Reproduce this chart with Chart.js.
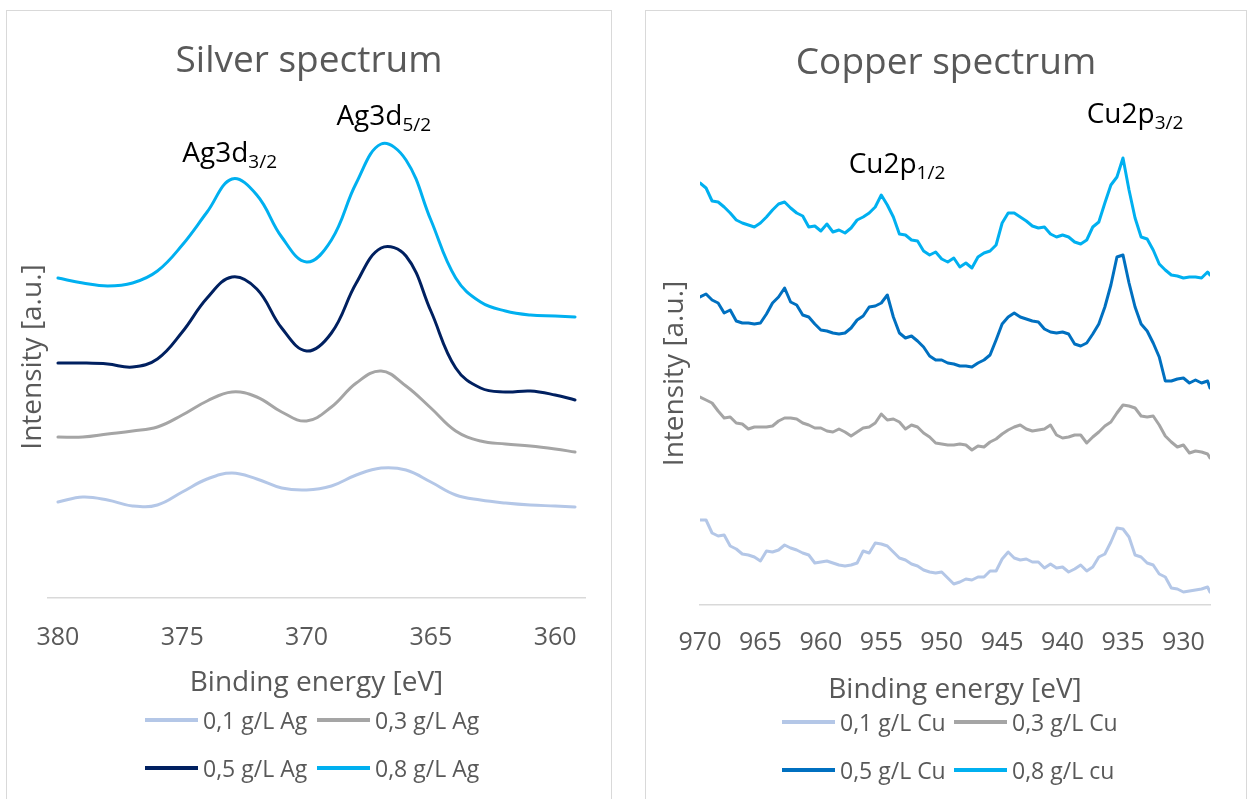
<!DOCTYPE html>
<html lang="en">
<head>
<meta charset="UTF-8">
<title>Silver and copper XPS spectra</title>
<script src="https://cdn.jsdelivr.net/npm/chart.js"></script>
<style>
  body { margin: 0; background: #fff; font-family: "Open Sans", sans-serif; }
  .panel { position: absolute; top: 10px; height: 789px; }
  .frame { position: absolute; left: 0; top: 0; right: 0; bottom: -12px; border: 1.5px solid #d9d9d9; box-sizing: border-box; }
  .panel canvas { position: absolute; left: 0; top: 0; }
  .legend { position: absolute; display: flex; flex-wrap: wrap; width: 344px; }
  .legend .item { width: 172px; height: 48px; display: flex; align-items: center; font-size: 23px; color: #595959; white-space: nowrap; }
  .legend .swatch { width: 53px; height: 4px; margin-right: 5px; flex: none; }
</style>
</head>
<body>
<div class="panel" id="agPanel" style="left:6px; width:606px;">
  <div class="frame"></div>
  <canvas id="agChart" width="606" height="789"></canvas>
  <div class="legend" id="agLegend" style="left:139px; top:686px;"></div>
</div>
<div class="panel" id="cuPanel" style="left:645px; width:602px;">
  <div class="frame"></div>
  <canvas id="cuChart" width="602" height="789"></canvas>
  <div class="legend" id="cuLegend" style="left:137px; top:688px;"></div>
</div>
<script>
// ---- silver spectrum ----
const agEnergy = [380, 379, 378, 377, 376, 375, 374, 373, 372, 371, 370, 369, 368, 367, 366, 365, 364, 363, 362, 361, 360, 359.2];
const agTicks = [380, 375, 370, 365, 360];
const agLabels = ['0,1 g/L Ag', '0,3 g/L Ag', '0,5 g/L Ag', '0,8 g/L Ag'];
const ag01 = [96, 101, 98, 92, 93, 106, 119, 125, 119, 110, 108, 112, 123, 130, 128, 116, 103, 98, 95, 93, 92, 91];
const ag03 = [161, 161, 164, 167, 171, 183, 197, 206, 201, 186, 177, 191, 215, 227, 212, 190, 167, 157, 154, 152, 149, 146];
const ag05 = [235, 235, 234, 231, 239, 266, 300, 321, 309, 270, 247, 265, 315, 350, 342, 287, 230, 210, 206, 207, 203, 198];
const ag08 = [320, 315, 312, 315, 327, 353, 386, 419, 403, 361, 336, 358, 415, 454, 438, 378, 320, 296, 287, 283, 282, 281];

// ---- copper spectrum ----
const cuEnergy = [970, 969.5, 969, 968.5, 968, 967.5, 967, 966.5, 966, 965.5,
  965, 964.5, 964, 963.5, 963, 962.5, 962, 961.5, 961, 960.5,
  960, 959.5, 959, 958.5, 958, 957.5, 957, 956.5, 956, 955.5,
  955, 954.5, 954, 953.5, 953, 952.5, 952, 951.5, 951, 950.5,
  950, 949.5, 949, 948.5, 948, 947.5, 947, 946.5, 946, 945.5,
  945, 944.5, 944, 943.5, 943, 942.5, 942, 941.5, 941, 940.5,
  940, 939.5, 939, 938.5, 938, 937.5, 937, 936.5, 936, 935.5,
  935, 934.5, 934, 933.5, 933, 932.5, 932, 931.5, 931, 930.5,
  930, 929.5, 929, 928.5, 928, 927.8];
const cuTicks = [970, 965, 960, 955, 950, 945, 940, 935, 930];
const cuLabels = ['0,1 g/L Cu', '0,3 g/L Cu', '0,5 g/L Cu', '0,8 g/L cu'];
const cu01 = [85, 85, 72, 69, 70, 59, 56, 51, 50, 48,
  44, 54, 53, 55, 60, 57, 55, 52, 50, 42,
  43, 44, 42, 40, 39, 40, 42, 54, 52, 62,
  61, 59, 53, 47, 45, 41, 39, 35, 33, 32,
  33, 27, 21, 23, 26, 25, 28, 28, 34, 34,
  46, 53, 47, 45, 46, 43, 43, 37, 41, 37,
  38, 33, 36, 40, 34, 38, 48, 51, 63, 77,
  76, 68, 50, 48, 42, 40, 31, 28, 17, 16,
  13, 14, 15, 16, 18, 13];
const cu03 = [208, 205, 202, 194, 187, 188, 182, 181, 176, 178,
  178, 178, 179, 184, 187, 187, 186, 182, 180, 177,
  177, 174, 173, 176, 173, 169, 173, 177, 178, 182,
  191, 185, 186, 183, 176, 180, 178, 172, 168, 162,
  161, 160, 160, 161, 160, 155, 159, 158, 163, 166,
  171, 175, 178, 180, 176, 174, 175, 176, 180, 170,
  167, 168, 170, 170, 162, 168, 173, 179, 183, 192,
  200, 199, 197, 189, 188, 189, 180, 169, 163, 158,
  160, 152, 154, 153, 151, 147];
const cu05 = [308, 311, 305, 302, 292, 295, 284, 282, 282, 281,
  282, 291, 302, 308, 317, 303, 300, 290, 288, 281,
  275, 274, 272, 271, 272, 277, 285, 289, 298, 299,
  302, 310, 288, 272, 267, 269, 264, 258, 249, 245,
  245, 242, 241, 239, 239, 238, 242, 245, 250, 265,
  281, 288, 292, 288, 286, 284, 283, 276, 273, 272,
  273, 271, 261, 259, 262, 271, 281, 298, 320, 348,
  350, 322, 298, 281, 274, 262, 248, 224, 224, 226,
  227, 222, 225, 222, 224, 217];
const cu08 = [422, 417, 404, 403, 398, 392, 385, 382, 380, 378,
  382, 388, 395, 401, 403, 397, 392, 389, 378, 379,
  374, 381, 373, 375, 372, 377, 385, 388, 392, 398,
  410, 400, 388, 371, 370, 365, 364, 354, 350, 353,
  346, 343, 347, 338, 342, 337, 348, 352, 354, 360,
  382, 392, 392, 388, 384, 379, 377, 378, 371, 368,
  370, 368, 363, 361, 365, 378, 383, 402, 420, 428,
  447, 415, 387, 368, 366, 355, 341, 335, 330, 329,
  327, 328, 328, 327, 333, 330];

const textColor = '#595959';
const fontName = '"Open Sans", sans-serif';

// peak names with a subscript, drawn at (energy, intensity) of the text baseline
const peakLabels = {
  id: 'peakLabels',
  afterDatasetsDraw(chart, args, opts) {
    const ctx = chart.ctx;
    const xs = chart.scales.x, ys = chart.scales.y;
    ctx.save();
    ctx.fillStyle = '#000';
    ctx.textAlign = 'left';
    ctx.textBaseline = 'alphabetic';
    opts.items.forEach(it => {
      const px = xs.getPixelForValue(it.x);
      const py = ys.getPixelForValue(it.y);
      ctx.font = '28px ' + fontName;
      ctx.fillText(it.main, px, py);
      const w = ctx.measureText(it.main).width;
      ctx.font = '19px ' + fontName;
      ctx.fillText(it.sub, px + w, py + 6);
    });
    ctx.restore();
  }
};

function series(energy, values) {
  return energy.map((e, i) => ({ x: e, y: values[i] }));
}

function makeChart(id, c) {
  return new Chart(document.getElementById(id), {
    type: 'line',
    data: { datasets: c.datasets },
    plugins: [peakLabels],
    options: {
      responsive: false,
      animation: false,
      events: [],
      layout: { padding: { left: 0, right: 0, top: 0, bottom: c.padBottom } },
      elements: { point: { radius: 0 } },
      plugins: {
        legend: { display: false },
        tooltip: { enabled: false },
        title: {
          display: true,
          text: c.title,
          color: textColor,
          font: { family: fontName, size: 37, weight: 'normal' },
          padding: { top: c.titleTop, bottom: c.titleBottom }
        },
        peakLabels: { items: c.peaks }
      },
      scales: {
        x: {
          type: 'linear',
          reverse: true,
          min: c.xMin,
          max: c.xMax,
          grid: { display: false, drawTicks: false },
          border: { display: true, color: '#d9d9d9', width: 1.5 },
          ticks: {
            color: textColor,
            font: { family: fontName, size: 25 },
            padding: c.tickPad,
            autoSkip: false,
            maxRotation: 0
          },
          afterBuildTicks: s => { s.ticks = c.ticks.map(v => ({ value: v })); },
          afterFit: s => { s.height = 110; },
          title: {
            display: true,
            text: 'Binding energy [eV]',
            color: textColor,
            font: { family: fontName, size: 28 },
            padding: { top: 0, bottom: 8.2 }
          }
        },
        y: {
          type: 'linear',
          min: 0,
          max: c.yMax,
          grid: { display: false, drawTicks: false },
          border: { display: false },
          ticks: { display: false },
          afterFit: s => { s.width = c.yWidth; },
          title: {
            display: true,
            text: 'Intensity [a.u.]',
            color: textColor,
            font: { family: fontName, size: 28 },
            padding: { top: c.yTitlePad, bottom: 0 }
          }
        },
        yRight: {
          type: 'linear',
          position: 'right',
          grid: { display: false, drawTicks: false },
          border: { display: false },
          ticks: { display: false },
          afterFit: s => { s.width = c.rightGap; }
        }
      }
    }
  });
}

function buildLegend(id, datasets) {
  const el = document.getElementById(id);
  datasets.forEach(ds => {
    const item = document.createElement('div');
    item.className = 'item';
    const sw = document.createElement('span');
    sw.className = 'swatch';
    sw.style.background = ds.borderColor;
    const tx = document.createElement('span');
    tx.textContent = ds.label;
    item.appendChild(sw);
    item.appendChild(tx);
    el.appendChild(item);
  });
}

const agColors = ['#b4c7e7', '#a5a5a5', '#002060', '#00b0f0'];
const cuColors = ['#b4c7e7', '#a5a5a5', '#0070c0', '#00b0f0'];

const agDatasets = [ag01, ag03, ag05, ag08].map((v, i) => ({
  label: agLabels[i],
  data: series(agEnergy, v),
  borderColor: agColors[i],
  backgroundColor: agColors[i],
  borderWidth: 3,
  fill: false,
  tension: 0.4,
  borderCapStyle: 'round'
}));

const cuDatasets = [cu01, cu03, cu05, cu08].map((v, i) => ({
  label: cuLabels[i],
  data: series(cuEnergy, v),
  borderColor: cuColors[i],
  backgroundColor: cuColors[i],
  borderWidth: 3,
  fill: false,
  tension: 0,
  borderJoinStyle: 'round',
  borderCapStyle: 'round'
}));

makeChart('agChart', {
  datasets: agDatasets,
  title: 'Silver spectrum',
  titleTop: 28.8, titleBottom: 32.8,
  padBottom: 91,
  xMin: 358.8, xMax: 380.4, ticks: agTicks, tickPad: 25,
  yMax: 482, yWidth: 42, yTitlePad: 10.2, rightGap: 27,
  peaks: [
    { x: 375.0, y: 436, main: 'Ag3d', sub: '3/2' },
    { x: 368.8, y: 473, main: 'Ag3d', sub: '5/2' }
  ]
});

makeChart('cuChart', {
  datasets: cuDatasets,
  title: 'Copper spectrum',
  titleTop: 30.8, titleBottom: 56.8,
  padBottom: 84,
  xMin: 927.8, xMax: 970, ticks: cuTicks, tickPad: 23,
  yMax: 463, yWidth: 55, yTitlePad: 13.2, rightGap: 37,
  peaks: [
    { x: 957.7, y: 432, main: 'Cu2p', sub: '1/2' },
    { x: 938.0, y: 482, main: 'Cu2p', sub: '3/2' }
  ]
});

buildLegend('agLegend', agDatasets);
buildLegend('cuLegend', cuDatasets);
</script>
</body>
</html>
